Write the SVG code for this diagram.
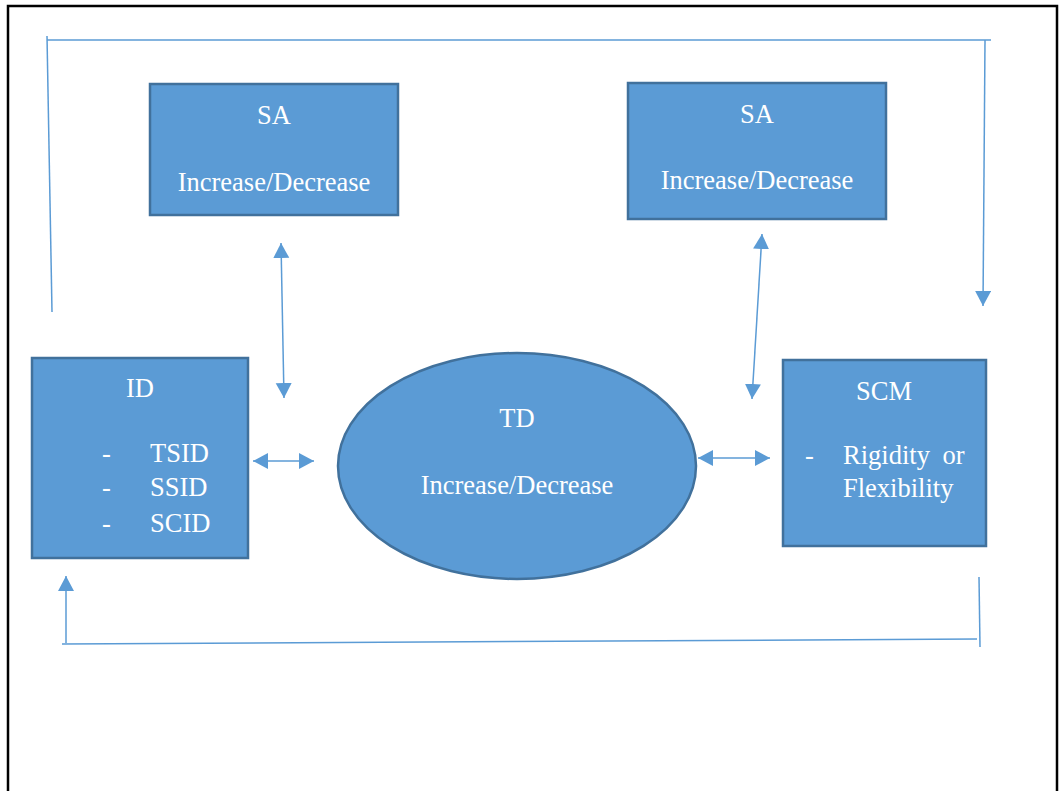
<svg xmlns="http://www.w3.org/2000/svg" width="1060" height="791" viewBox="0 0 1060 791">
<style>
.box{fill:#5B9BD5;stroke:#41719C;stroke-width:2.5}
.t{font-family:"Liberation Serif","Times New Roman",serif;font-size:26.5px;fill:#fff}
.c{text-anchor:middle}
.ln{fill:none;stroke:#5B9BD5;stroke-width:1.5}
</style>
<defs>
<marker id="ah" markerUnits="userSpaceOnUse" markerWidth="17" markerHeight="17" refX="15" refY="8" orient="auto-start-reverse">
<path d="M0,0 L15,8 L0,16 Z" fill="#5B9BD5"/>
</marker>
</defs>
<rect width="1060" height="791" fill="#fff"/>
<path d="M8,800 V6 H1057 V800" fill="none" stroke="#000" stroke-width="2.5"/>

<g id="connectors">
<path class="ln" d="M47,36 L52,312"/>
<path class="ln" d="M47,40 H991"/>
<path class="ln" d="M985,40 L983,306" marker-end="url(#ah)"/>
<path class="ln" d="M281,243 L284,398" marker-start="url(#ah)" marker-end="url(#ah)"/>
<path class="ln" d="M762,234 L752,399" marker-start="url(#ah)" marker-end="url(#ah)"/>
<path class="ln" d="M253,461 H314" marker-start="url(#ah)" marker-end="url(#ah)"/>
<path class="ln" d="M698,458 H770" marker-start="url(#ah)" marker-end="url(#ah)"/>
<path class="ln" d="M979,577 L980,647"/>
<path class="ln" d="M62,644 L977,639"/>
<path class="ln" d="M66,643 V576" marker-end="url(#ah)"/>
</g>

<g id="sa-left">
<rect class="box" x="150" y="84" width="248" height="131"/>
<text class="t c" x="274" y="124">SA</text>
<text class="t c" x="274" y="191">Increase/Decrease</text>
</g>

<g id="sa-right">
<rect class="box" x="628" y="83" width="258" height="136"/>
<text class="t c" x="757" y="123">SA</text>
<text class="t c" x="757" y="189">Increase/Decrease</text>
</g>

<g id="id">
<rect class="box" x="32" y="358" width="216" height="200"/>
<text class="t c" x="140" y="397">ID</text>
<text class="t" y="462"><tspan x="102">-</tspan><tspan x="150">TSID</tspan></text>
<text class="t" y="496"><tspan x="102">-</tspan><tspan x="150">SSID</tspan></text>
<text class="t" y="532"><tspan x="102">-</tspan><tspan x="150">SCID</tspan></text>
</g>

<g id="td">
<ellipse cx="517" cy="466" rx="179" ry="113" fill="#5B9BD5" stroke="#41719C" stroke-width="2.5"/>
<text class="t c" x="517" y="427">TD</text>
<text class="t c" x="517" y="494">Increase/Decrease</text>
</g>

<g id="scm">
<rect class="box" x="783" y="360" width="203" height="186"/>
<text class="t c" x="884" y="400">SCM</text>
<text class="t" y="464"><tspan x="805">-</tspan><tspan x="843" word-spacing="6">Rigidity or</tspan></text>
<text class="t" x="843" y="497">Flexibility</text>
</g>
</svg>
